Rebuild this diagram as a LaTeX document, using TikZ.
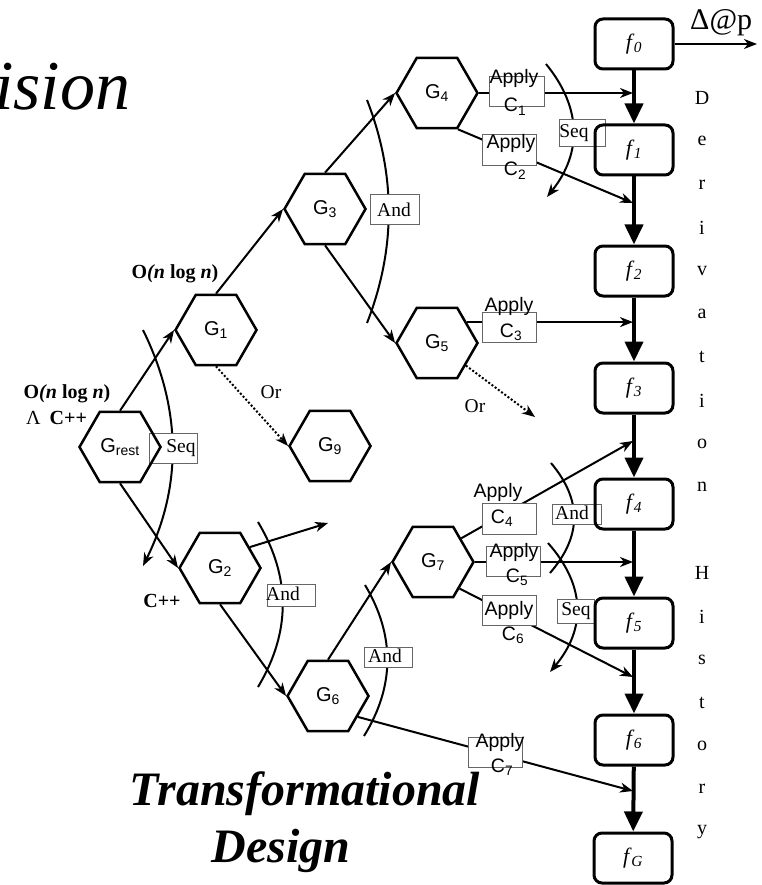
\documentclass[tikz,border=0pt]{standalone}
\usepackage{fontspec}
\setmainfont{Liberation Serif}
\newfontfamily\arialfnt{Liberation Sans}
\usetikzlibrary{shapes.geometric,arrows.meta}
\pgfdeclarelayer{bg}
\pgfsetlayers{bg,main}

\newcommand\lblfont{\fontsize{19.5}{22}\selectfont}

\tikzset{
  hexnode/.style={regular polygon, regular polygon sides=6, minimum size=81pt, inner sep=0pt, draw, line width=2.5pt, font=\arialfnt\fontsize{20}{22}\selectfont},
  fnode/.style={draw, rounded corners=8pt, line width=3pt, minimum width=78pt, minimum height=50pt, font=\fontsize{22}{24}\selectfont\itshape},
  flow/.style={line width=2pt, -{Stealth[length=13pt,width=10pt,inset=4pt]}},
  orflow/.style={flow, dash pattern=on 2pt off 2pt},
  chain/.style={line width=4pt, -{Triangle[length=20pt,width=18pt]}},
  arcline/.style={line width=2pt},
  seqarc/.style={arcline, -{Stealth[length=13pt,width=10pt,inset=4pt]}},
  lblbox/.style={draw=black!60, line width=1pt, fill=white, inner sep=0pt},
  applytxt/.style={font=\arialfnt\lblfont, inner sep=0pt},
  optxt/.style={font=\lblfont, inner sep=0pt},
  cmplx/.style={font=\fontsize{20}{22}\selectfont, inner sep=0pt},
  vletter/.style={font=\fontsize{20}{22}\selectfont, inner sep=0pt}
}

\begin{document}
\begin{tikzpicture}[x=1pt, y=-1pt]
\useasboundingbox (0,0) rectangle (762,885);

% goal hexagons
\node[hexnode] (Grest) at (120,447) {G\textsubscript{rest}};
\node[hexnode] (G1) at (216,330) {G\textsubscript{1}};
\node[hexnode] (G2) at (220,568) {G\textsubscript{2}};
\node[hexnode] (G3) at (325,209) {G\textsubscript{3}};
\node[hexnode] (G4) at (437,93) {G\textsubscript{4}};
\node[hexnode] (G5) at (437,343) {G\textsubscript{5}};
\node[hexnode] (G6) at (328,696) {G\textsubscript{6}};
\node[hexnode] (G7) at (433,562) {G\textsubscript{7}};
\node[hexnode] (G9) at (330,446) {G\textsubscript{9}};

% derivation history
\node[fnode] (f0) at (634,44) {f\kern2pt\textsubscript{0}};
\node[fnode] (f1) at (634,150) {f\kern2pt\textsubscript{1}};
\node[fnode] (f2) at (634,271) {f\kern2pt\textsubscript{2}};
\node[fnode] (f3) at (634,388) {f\kern2pt\textsubscript{3}};
\node[fnode] (f4) at (634,504) {f\kern2pt\textsubscript{4}};
\node[fnode] (f5) at (634,623) {f\kern2pt\textsubscript{5}};
\node[fnode] (f6) at (634,740) {f\kern2pt\textsubscript{6}};
\node[fnode] (fG) at (633,858) {f\kern2pt\textsubscript{G}};
\foreach \a/\b in {f0/f1,f1/f2,f2/f3,f3/f4,f4/f5,f5/f6,f6/fG}
  \draw[chain] (\a) -- (\b);

% free ends
\coordinate (chainx) at (633,0);
\coordinate (t2) at (633,203);
\coordinate (t4) at (633,441);
\coordinate (t6) at (633,677);
\coordinate (t7) at (633,791);
\coordinate (orend) at (535,417);
\coordinate (g2end) at (328,523);
\coordinate (dend) at (757,44);

\begin{pgfonlayer}{bg}
  % refinement edges
  \draw[flow] (Grest.north) -- (G1.west);
  \draw[flow] (Grest.south) -- (G2.west);
  \draw[flow] (G1.north) -- (G3.west);
  \draw[flow] (G3.north) -- (G4.west);
  \draw[flow] (G3.south) -- (G5.west);
  \draw[flow] (G2.south) -- (G6.west);
  \draw[flow] (G6.north) -- (G7.west);
  \draw[flow] (G2.35) -- (g2end);
  \draw[orflow] (G1.south) -- (G9.west);
  \draw[orflow] (G5.-38) -- (orend);
  % applied transformations
  \draw[flow] (G4.east) -- (G4.east -| chainx);
  \draw[flow] (G4.-60) -- (t2);
  \draw[flow] (G5.35) -- (G5.35 -| chainx);
  \draw[flow] (G7.40) -- (t4);
  \draw[flow] (G7.east) -- (G7.east -| chainx);
  \draw[flow] (G7.-45) -- (t6);
  \draw[flow] (G6.-35) -- (t7);
  \draw[flow] (f0.east) -- (dend);
  % decomposition arcs
  \draw[seqarc] (143,330) .. controls (182,409) and (182,487) .. (143,566);
  \draw[arcline] (367,100) .. controls (396,174) and (396,249) .. (367,323);
  \draw[seqarc] (546,64) .. controls (582,108) and (582,153) .. (547,197);
  \draw[arcline] (258,522) .. controls (291,577) and (291,632) .. (258,687);
  \draw[arcline] (365,585) .. controls (395,635) and (395,686) .. (364,736);
  \draw[arcline] (551,463) .. controls (582,500) and (582,536) .. (550,573);
  \draw[seqarc] (548,543) .. controls (586,586) and (586,629) .. (550,672);
  % label boxes
  \node[lblbox, minimum width=55pt, minimum height=30pt] (bC1) at (516.5,92) {};
  \node[lblbox, minimum width=54pt, minimum height=31pt] (bC2) at (509,150.5) {};
  \node[lblbox, minimum width=54pt, minimum height=30pt] (bC3) at (509,327) {};
  \node[lblbox, minimum width=54pt, minimum height=31pt] (bC4) at (509,518.5) {};
  \node[lblbox, minimum width=54pt, minimum height=30pt] (bC5) at (513,561) {};
  \node[lblbox, minimum width=54pt, minimum height=30pt] (bC6) at (509,610) {};
  \node[lblbox, minimum width=54pt, minimum height=30pt] (bC7) at (495,752) {};
  \node[lblbox, minimum width=48pt, minimum height=30pt] (bsq1) at (173,448) {};
  \node[lblbox, minimum width=49pt, minimum height=30pt] (ban1) at (394.5,210) {};
  \node[lblbox, minimum width=46pt, minimum height=27pt] (bsq2) at (582,133.5) {};
  \node[lblbox, minimum width=48pt, minimum height=22pt] (ban2) at (291,595) {};
  \node[lblbox, minimum width=48pt, minimum height=20pt] (ban3) at (388,657) {};
  \node[lblbox, minimum width=49pt, minimum height=20pt] (ban4) at (576.5,514) {};
  \node[lblbox, minimum width=37pt, minimum height=24pt] (bsq3) at (575.5,611) {};
\end{pgfonlayer}

% transformation labels
\node[applytxt, anchor=base] (aC1) at (514,84) {Apply};
\node[applytxt, anchor=base] (cC1) at (515,112) {C\textsubscript{1}};
\node[applytxt, anchor=base] (aC2) at (511,149) {Apply};
\node[applytxt, anchor=base] (cC2) at (515,176) {C\textsubscript{2}};
\node[applytxt, anchor=base] (aC3) at (509,311) {Apply};
\node[applytxt, anchor=base] (cC3) at (511,337) {C\textsubscript{3}};
\node[applytxt, anchor=base] (aC4) at (498,497) {Apply};
\node[applytxt, anchor=base] (cC4) at (502,523) {C\textsubscript{4}};
\node[applytxt, anchor=base] (aC5) at (514,557) {Apply};
\node[applytxt, anchor=base] (cC5) at (517,582) {C\textsubscript{5}};
\node[applytxt, anchor=base] (aC6) at (509,615) {Apply};
\node[applytxt, anchor=base] (cC6) at (513,640) {C\textsubscript{6}};
\node[applytxt, anchor=base] (aC7) at (500,747) {Apply};
\node[applytxt, anchor=base] (cC7) at (502,772) {C\textsubscript{7}};

% decomposition labels
\node[optxt] (sq1) at (181,448) {Seq};
\node[optxt] (an1) at (394,210) {And};
\node[optxt] (sq2) at (574,133) {Seq};
\node[optxt] (an2) at (283,594) {And};
\node[optxt] (an3) at (385,656) {And};
\node[optxt] (an4) at (572,513) {And};
\node[optxt] (sq3) at (576,611) {Seq};
\node[optxt, anchor=base] (or1) at (271,398) {Or};
\node[optxt, anchor=base] (or2) at (475,412) {Or};

% constraints
\node[cmplx, anchor=base] (cx1) at (175,278) {\textbf{O\textit{(n} log \textit{n})}};
\node[cmplx, anchor=base] (cx2) at (67,398) {\textbf{O\textit{(n} log \textit{n})}};
\node[cmplx, anchor=base west] (cx3) at (26,424) {Λ\hspace{9pt}\textbf{C++}};
\node[cmplx, anchor=base] (cx4) at (162,607) {\textbf{C++}};
\node[inner sep=0pt, anchor=base west, font=\fontsize{30}{32}\selectfont] (delta) at (690,30) {Δ@p};

% vertical caption
\foreach \ch [count=\k from 0] in {D,e,r,i,v,a,t,i,o,n,{},H,i,s,t,o,r,y}
  \node[vletter] (v\k) at (702,{98+43.2*\k}) {\ch};

% titles
\node[inner sep=0pt, anchor=base west, font=\fontsize{70}{74}\selectfont\itshape] (ttl) at (-6,110) {ision};
\node[inner sep=0pt, anchor=base, font=\fontsize{48}{52}\selectfont\bfseries\itshape] (td1) at (305,805) {Transformational};
\node[inner sep=0pt, anchor=base, font=\fontsize{48}{52}\selectfont\bfseries\itshape] (td2) at (281,862) {Design};
\end{tikzpicture}
\end{document}
